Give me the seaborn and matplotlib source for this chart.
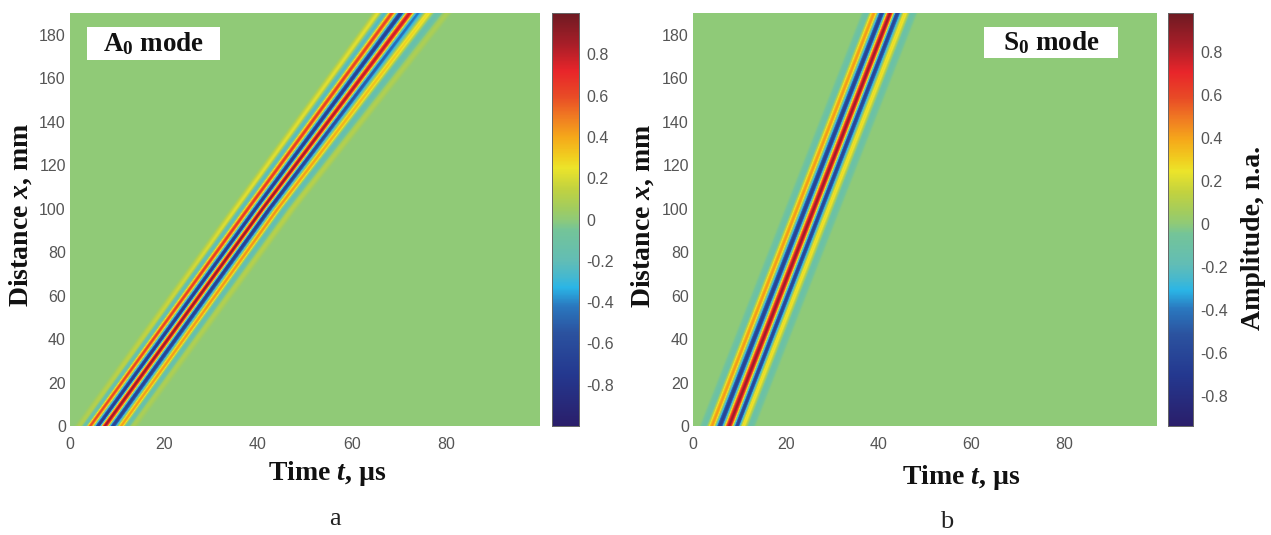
import numpy as np
import matplotlib
matplotlib.use("Agg")
import matplotlib.pyplot as plt
import seaborn as sns
from matplotlib.colors import LinearSegmentedColormap
from matplotlib.patches import Rectangle

W, H = 1271, 535

# crests: one row per distance, one column per stripe
a0_distance = [0, 100, 190]
a0_crest_time = [
    [2.1, 3.2, 4.3, 6.0, 7.4, 9.1, 10.9, 12.1, 13.4],
    [35.3, 36.5, 37.9, 39.5, 41.0, 42.4, 44.2, 45.6, 47.2],
    [65.5, 67.0, 68.5, 70.4, 72.3, 74.0, 76.2, 78.1, 80.2],
]
a0_crest_amp = [
    [0.1, -0.15, 0.6, -0.7, 0.88, -0.65, 0.42, -0.15, 0.08],
    [0.22, -0.22, 0.65, -0.7, 0.9, -0.7, 0.45, -0.2, 0.12],
    [0.22, -0.25, 0.62, -0.68, 0.78, -0.42, 0.27, -0.15, 0.08],
]

s0_distance = [0, 190]
s0_crest_time = [
    [2.6, 4.1, 5.8, 7.8, 9.5, 10.8, 12.3],
    [37.5, 39.0, 40.7, 42.5, 44.0, 45.7, 47.2],
]
s0_crest_amp = [
    [-0.12, 0.42, -0.62, 0.85, -0.6, 0.27, -0.12],
    [-0.12, 0.42, -0.62, 0.85, -0.6, 0.27, -0.12],
]

# colorbar colours read at these amplitudes
bar_values = [-1, -0.75, -0.55, -0.42, -0.33, -0.28, -0.2, -0.05, 0, 0.05, 0.15,
              0.25, 0.3, 0.4, 0.5, 0.6, 0.72, 0.85, 1]
bar_colors = ["#2a1e6a", "#24388f", "#2b529f", "#2a78bf", "#2ab5e6", "#44b8d0", "#62bdb5",
              "#74c498", "#8fca78", "#a0cc60", "#c2d23f", "#ece42a", "#f0d020", "#f5a81a",
              "#f07a22", "#e84a26", "#e8252a", "#a81e28", "#6e1a22"]

time_ticks = [0, 20, 40, 60, 80]
distance_ticks = list(range(0, 181, 20))
amp_ticks = [-0.8, -0.6, -0.4, -0.2, 0, 0.2, 0.4, 0.6, 0.8]

T_MAX = 100
X_MAX = 190


def fig_box(x0, y0, x1, y1):
    return [x0 / W, 1 - y1 / H, (x1 - x0) / W, (y1 - y0) / H]


def make_cmap(vmin, vmax):
    pos = [(v * abs(vmin) - vmin) / (vmax - vmin) if v < 0 else (v * vmax - vmin) / (vmax - vmin)
           for v in bar_values]
    return LinearSegmentedColormap.from_list("bar", list(zip(pos, bar_colors)), N=512)


def build_grid(n_rows, n_cols, distance, crest_time, crest_amp):
    times = (np.arange(n_cols) + 0.5) * T_MAX / n_cols
    rows = (np.arange(n_rows) + 0.5) * X_MAX / n_rows
    crest_time = np.array(crest_time)
    crest_amp = np.array(crest_amp)
    grid = np.zeros((n_rows, n_cols))
    for i, d in enumerate(rows):
        ct = [np.interp(d, distance, crest_time[:, j]) for j in range(crest_time.shape[1])]
        ca = [np.interp(d, distance, crest_amp[:, j]) for j in range(crest_amp.shape[1])]
        ct = np.array([ct[0] - 1.5] + ct + [ct[-1] + 1.5])
        ca = np.array([0] + ca + [0])
        # round the peaks between neighbouring crests
        u = np.interp(times, ct, np.arange(len(ct)), left=0, right=len(ct) - 1)
        k = np.minimum(u.astype(int), len(ct) - 2)
        s = (1 - np.cos(np.pi * (u - k))) / 2
        grid[i] = ca[k] + (ca[k + 1] - ca[k]) * s
    return grid


def panel(fig, box, cbox, distance, crest_time, crest_amp, vmin, vmax):
    # one cell per pixel, so the stripes do not beat against the pixel grid
    n_cols = box[2] - box[0]
    n_rows = box[3] - box[1]
    grid = build_grid(n_rows, n_cols, distance, crest_time, crest_amp)
    ax = fig.add_axes(fig_box(*box))
    cax = fig.add_axes(fig_box(*cbox))
    sns.heatmap(grid, ax=ax, cbar_ax=cax, cmap=make_cmap(vmin, vmax), vmin=vmin, vmax=vmax,
                xticklabels=False, yticklabels=False)
    ax.invert_yaxis()
    ax.set_xticks([t * n_cols / T_MAX for t in time_ticks])
    ax.set_xticklabels(time_ticks, rotation=0)
    ax.set_yticks([d * n_rows / X_MAX for d in distance_ticks])
    ax.set_yticklabels(distance_ticks, rotation=0)
    ax.tick_params(axis="x", length=0, labelsize=11.5, labelcolor="#555555", pad=8)
    ax.tick_params(axis="y", length=0, labelsize=11.5, labelcolor="#555555", pad=3)
    cax.set_yticks(amp_ticks)
    cax.set_yticklabels([f"{a:g}" for a in amp_ticks])
    cax.tick_params(direction="in", length=3, width=0.8, color="#333333",
                    labelsize=11.5, labelcolor="#555555", pad=5)
    for side in cax.spines.values():
        side.set_visible(True)
        side.set_color("#666666")
        side.set_linewidth(0.6)
    return ax


def mode_label(fig, x0, y0, x1, y1, text):
    fig.add_artist(Rectangle((x0 / W, 1 - y1 / H), (x1 - x0) / W, (y1 - y0) / H,
                             transform=fig.transFigure, facecolor="white", edgecolor="none"))
    fig.text((x0 + x1) / 2 / W, 1 - (y0 + y1) / 2 / H, text, ha="center", va="center",
             fontsize=19.5, fontweight="bold", family="Liberation Serif", color="#111111")


sns.set_theme(style="white")
plt.rcParams["font.family"] = ["Liberation Sans", "DejaVu Sans"]
plt.rcParams["mathtext.fontset"] = "custom"
plt.rcParams["mathtext.it"] = "Liberation Serif:italic:bold"
plt.rcParams["mathtext.bf"] = "Liberation Serif:bold"
plt.rcParams["mathtext.rm"] = "Liberation Serif:bold"

fig = plt.figure(figsize=(W / 100, H / 100), dpi=100)

panel(fig, (70, 13, 540, 426), (552, 13, 579, 426), a0_distance, a0_crest_time, a0_crest_amp, -1.0, 1.0)
panel(fig, (693, 13, 1157, 426), (1168, 13, 1193, 426), s0_distance, s0_crest_time, s0_crest_amp, -0.94, 0.98)

mode_label(fig, 87, 27, 220, 60, r"A$_{\mathbf{0}}$ mode")
mode_label(fig, 984, 27, 1118, 58, r"S$_{\mathbf{0}}$ mode")

label_font = dict(fontsize=20, fontweight="bold", family="Liberation Serif", color="#111111")
fig.text(327 / W, 1 - 473 / H, r"Time $t$, µs", ha="center", va="center", **label_font)
fig.text(961 / W, 1 - 477 / H, r"Time $t$, µs", ha="center", va="center", **label_font)
fig.text(21 / W, 1 - 215 / H, r"Distance $x$, mm", ha="center", va="center", rotation=90, **label_font)
fig.text(643 / W, 1 - 216 / H, r"Distance $x$, mm", ha="center", va="center", rotation=90, **label_font)
fig.text(1253 / W, 1 - 238 / H, "Amplitude, n.a.", ha="center", va="center", rotation=90, **label_font)

fig.text(335 / W, 1 - 519 / H, "a", ha="center", va="center", fontsize=19, family="Liberation Serif", color="#222222")
fig.text(947 / W, 1 - 522 / H, "b", ha="center", va="center", fontsize=19, family="Liberation Serif", color="#222222")

fig.savefig("out.png", dpi=100)
